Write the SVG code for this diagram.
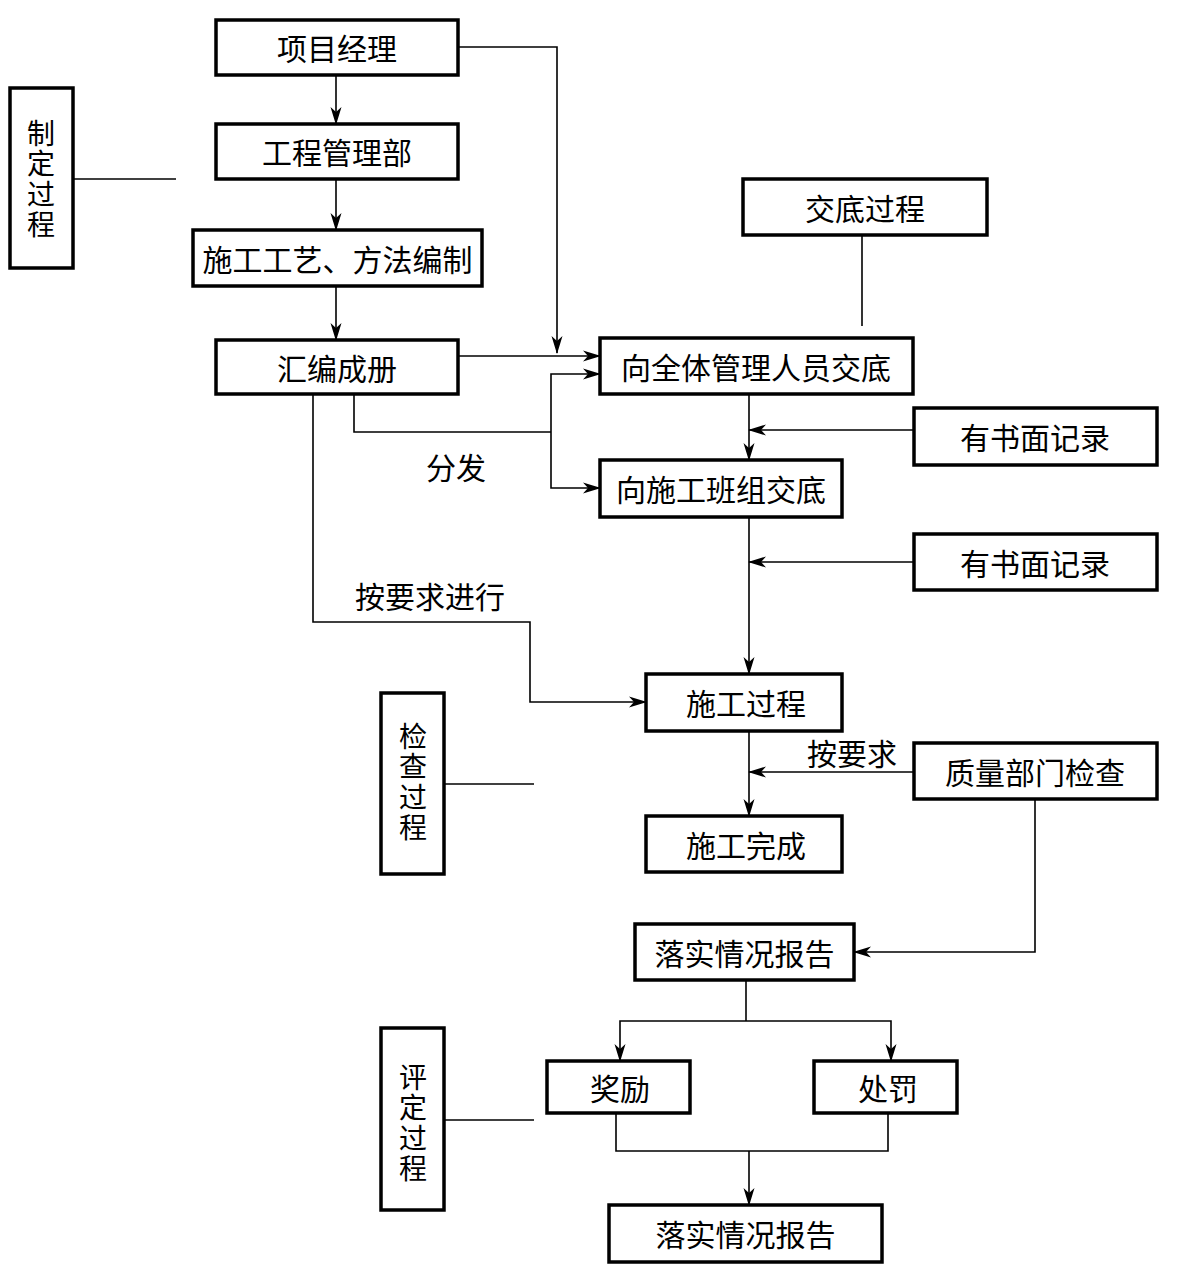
<svg xmlns="http://www.w3.org/2000/svg" width="1178" height="1287" viewBox="0 0 1178 1287">
<defs>
<style>
.box{fill:#fff;stroke:#000;stroke-width:3.5}
.t{font-family:"Noto Sans CJK SC","Noto Sans",sans-serif;font-size:30px;fill:#000;text-anchor:middle;dominant-baseline:central}
.v{font-family:"Noto Sans CJK SC","Noto Sans",sans-serif;font-size:28px;fill:#000;text-anchor:middle;dominant-baseline:central;writing-mode:vertical-rl;letter-spacing:2.5px}
.c{fill:none;stroke:#000;stroke-width:1.6}
.a{marker-end:url(#arr)}
</style>
<marker id="arr" markerUnits="userSpaceOnUse" markerWidth="18" markerHeight="12" viewBox="0 0 18 12" refX="17" refY="6" orient="auto">
<path d="M0,0.5 L18,6 L0,11.5 L5,6 Z" fill="#000"/>
</marker>
</defs>
<rect width="1178" height="1287" fill="#fff"/>

<g id="connectors">
<path class="c a" d="M336,75 V124"/>
<path class="c a" d="M336,179 V230"/>
<path class="c a" d="M336,286 V340"/>
<path class="c a" d="M458,47 H557 V353"/>
<path class="c a" d="M458,356 H600"/>
<path class="c" d="M354,394 V432 H551"/>
<path class="c a" d="M551,432 V374 H600"/>
<path class="c a" d="M551,432 V488 H600"/>
<path class="c a" d="M313,394 V622 H530 V702 H646"/>
<path class="c" d="M862,235 V326"/>
<path class="c a" d="M749,394 V460"/>
<path class="c a" d="M914,430 H749"/>
<path class="c a" d="M749,517 V674"/>
<path class="c a" d="M914,562 H749"/>
<path class="c a" d="M749,731 V816"/>
<path class="c a" d="M914,772 H749"/>
<path class="c a" d="M1035,799 V952 H854"/>
<path class="c" d="M746,980 V1021"/>
<path class="c a" d="M746,1021 H620 V1061"/>
<path class="c a" d="M746,1021 H891 V1061"/>
<path class="c" d="M616,1113 V1151 H888 V1113"/>
<path class="c a" d="M749,1151 V1205"/>
<path class="c" d="M73,179 H176"/>
<path class="c" d="M444,784 H534"/>
<path class="c" d="M444,1120 H534"/>
</g>

<g id="n_xmjl"><rect class="box" x="216" y="20" width="242" height="55"/><text class="t" x="337" y="47">项目经理</text></g>
<g id="n_gcglb"><rect class="box" x="216" y="124" width="242" height="55"/><text class="t" x="337" y="151">工程管理部</text></g>
<g id="n_sggy"><rect class="box" x="193" y="230" width="289" height="56"/><text class="t" x="337.5" y="258">施工工艺、方法编制</text></g>
<g id="n_hbcc"><rect class="box" x="216" y="340" width="242" height="54"/><text class="t" x="337" y="367">汇编成册</text></g>
<g id="n_zdgc"><rect class="box" x="10" y="88" width="63" height="180"/><text class="v" x="41" y="180">制定过程</text></g>
<g id="n_jdgc"><rect class="box" x="743" y="179" width="244" height="56"/><text class="t" x="865" y="207">交底过程</text></g>
<g id="n_xqt"><rect class="box" x="600" y="338" width="313" height="56"/><text class="t" x="756" y="366">向全体管理人员交底</text></g>
<g id="n_ysm1"><rect class="box" x="914" y="408" width="243" height="57"/><text class="t" x="1035" y="436">有书面记录</text></g>
<g id="n_xsg"><rect class="box" x="600" y="460" width="242" height="57"/><text class="t" x="721" y="488">向施工班组交底</text></g>
<g id="label_ff"><text class="t" x="456" y="466">分发</text></g>
<g id="n_ysm2"><rect class="box" x="914" y="534" width="243" height="56"/><text class="t" x="1035" y="562">有书面记录</text></g>
<g id="label_ayqjx"><text class="t" x="430" y="595">按要求进行</text></g>
<g id="n_sggc"><rect class="box" x="646" y="674" width="196" height="57"/><text class="t" x="746" y="702">施工过程</text></g>
<g id="label_ayq"><text class="t" x="852" y="752">按要求</text></g>
<g id="n_zlbm"><rect class="box" x="914" y="743" width="243" height="56"/><text class="t" x="1035" y="771">质量部门检查</text></g>
<g id="n_jcgc"><rect class="box" x="381" y="693" width="63" height="181"/><text class="v" x="413" y="783">检查过程</text></g>
<g id="n_sgwc"><rect class="box" x="646" y="816" width="196" height="56"/><text class="t" x="746" y="844">施工完成</text></g>
<g id="n_lsbg1"><rect class="box" x="635" y="924" width="219" height="56"/><text class="t" x="744.5" y="952">落实情况报告</text></g>
<g id="n_jl"><rect class="box" x="547" y="1061" width="143" height="52"/><text class="t" x="620" y="1087">奖励</text></g>
<g id="n_cf"><rect class="box" x="814" y="1061" width="143" height="52"/><text class="t" x="888" y="1087">处罚</text></g>
<g id="n_pdgc"><rect class="box" x="381" y="1028" width="63" height="182"/><text class="v" x="413" y="1124">评定过程</text></g>
<g id="n_lsbg2"><rect class="box" x="609" y="1205" width="273" height="57"/><text class="t" x="745.5" y="1233">落实情况报告</text></g>
</svg>
